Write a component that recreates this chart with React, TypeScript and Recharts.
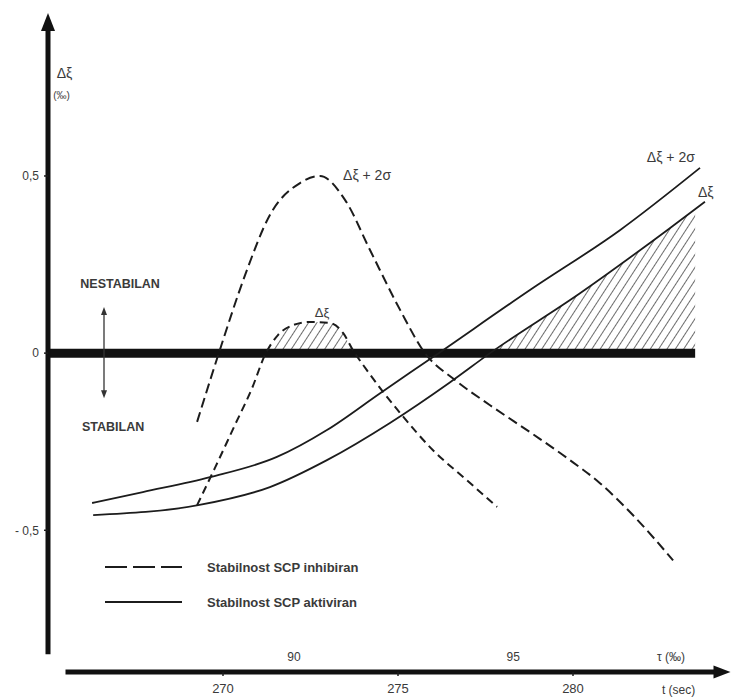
import React from 'react';
import {
  ComposedChart,
  Line,
  Area,
  XAxis,
  YAxis,
  ReferenceLine,
  ReferenceDot,
  Legend,
} from 'recharts';

// [t (sec), Δξ (‰)]
const inhibUpper: [number, number][] = [
  [269.26, -0.194], [269.91, 0.009], [270.63, 0.22], [271.34, 0.39], [272.2, 0.48],
  [272.77, 0.5], [273.49, 0.432], [274.2, 0.291], [275.06, 0.122], [275.77, 0.0],
  [276.63, -0.076], [277.63, -0.147], [278.86, -0.229], [279.83, -0.296],
  [280.77, -0.367], [281.71, -0.457], [282.86, -0.585],
];
const inhibLower: [number, number][] = [
  [269.26, -0.429], [269.77, -0.324], [270.34, -0.203], [270.83, -0.099], [271.2, -0.005],
  [271.57, 0.051], [272.0, 0.079], [272.49, 0.088], [273.06, 0.085], [273.43, 0.057],
  [273.71, 0.009], [274.11, -0.048], [275.06, -0.169], [276.0, -0.274],
  [276.97, -0.359], [277.83, -0.434],
];
const activUpper: [number, number][] = [
  [266.26, -0.423], [267.71, -0.392], [269.63, -0.35], [271.54, -0.293], [272.97, -0.217],
  [274.49, -0.113], [276.0, -0.011], [278.77, 0.178], [281.34, 0.347], [283.63, 0.523],
];
const activLower: [number, number][] = [
  [266.29, -0.457], [269.29, -0.429], [271.34, -0.378], [272.97, -0.302], [274.77, -0.197],
  [276.49, -0.082], [277.63, 0.0], [280.2, 0.169], [282.69, 0.347], [283.77, 0.427],
];
// hatched (unstable) parts of Δξ above zero
const inhibHatch: [number, number][] = [
  [271.2, 0.0], [271.57, 0.051], [272.0, 0.079], [272.49, 0.088], [273.06, 0.085],
  [273.43, 0.057], [273.71, 0.0],
];
const activHatch: [number, number][] = [
  [277.63, 0.0], [280.2, 0.169], [282.69, 0.347], [283.49, 0.406],
];

const xTicks = [270, 275, 280];
const yTicks = [-0.5, 0, 0.5];
const yTickLabels = ['- 0,5', '0', '0,5'];
const tauTicks = [272.03, 278.29];
const tauLabels = ['90', '95'];

const legendItems = [
  { label: 'Stabilnost SCP inhibiran', dash: '22 6' },
  { label: 'Stabilnost SCP aktiviran', dash: undefined },
];

const INK = '#1c1c1c';
const TEXT = '#3a3a3a';

const rows = (pts: [number, number][]) => pts.map(([t, v]) => ({ t, v }));

const arrowShape = (len: number, half: number, both: boolean) => (p: any) => {
  const { x1, y1, x2, y2, stroke, strokeWidth } = p;
  const a = Math.atan2(y2 - y1, x2 - x1);
  const head = (x: number, y: number, ang: number) => {
    const bx = x - len * Math.cos(ang);
    const by = y - len * Math.sin(ang);
    const px = half * Math.sin(ang);
    const py = half * Math.cos(ang);
    return `${x},${y} ${bx + px},${by - py} ${bx - px},${by + py}`;
  };
  const sx = both ? x1 + (len / 2) * Math.cos(a) : x1;
  const sy = both ? y1 + (len / 2) * Math.sin(a) : y1;
  return (
    <g>
      <line
        x1={sx}
        y1={sy}
        x2={x2 - (len / 2) * Math.cos(a)}
        y2={y2 - (len / 2) * Math.sin(a)}
        stroke={stroke}
        strokeWidth={strokeWidth}
      />
      <polygon points={head(x2, y2, a)} fill={stroke} />
      {both && <polygon points={head(x1, y1, a + Math.PI)} fill={stroke} />}
    </g>
  );
};

const textShape = (text: string, size: number, anchor: string, weight = 'normal') => (p: any) => (
  <text
    x={p.cx}
    y={p.cy}
    textAnchor={anchor}
    dominantBaseline="central"
    fontSize={size}
    fontWeight={weight}
    fill={TEXT}
  >
    {text}
  </text>
);

const notes = [
  { t: 273.43, v: 0.503, text: 'Δξ + 2σ', size: 14, anchor: 'start' },
  { t: 272.83, v: 0.116, text: 'Δξ', size: 13, anchor: 'middle' },
  { t: 282.11, v: 0.553, text: 'Δξ + 2σ', size: 14, anchor: 'start' },
  { t: 283.57, v: 0.455, text: 'Δξ', size: 14, anchor: 'start' },
  { t: 265.25, v: 0.79, text: 'Δξ', size: 14, anchor: 'start' },
  { t: 265.15, v: 0.728, text: '(‰)', size: 10, anchor: 'start' },
];
const sideNotes = [
  { t: 267.06, v: 0.195, text: 'NESTABILAN' },
  { t: 266.86, v: -0.209, text: 'STABILAN' },
];

const LegendBox = () => (
  <svg width={320} height={60}>
    {legendItems.map((it, i) => (
      <g key={it.label} transform={`translate(0, ${14 + i * 35})`}>
        <line x1={5} x2={82} y1={0} y2={0} stroke={INK} strokeWidth={2} strokeDasharray={it.dash} />
        <text
          x={107}
          y={0}
          dominantBaseline="central"
          fontSize={13}
          fontWeight="bold"
          fill={TEXT}
        >
          {it.label}
        </text>
      </g>
    ))}
  </svg>
);

export default function App() {
  return (
    <div
      style={{
        position: 'absolute',
        left: 0,
        top: 0,
        width: 733,
        height: 698,
        background: '#fff',
        fontFamily: '"Liberation Sans", Arial, sans-serif',
      }}
    >
      <ComposedChart width={733} height={698} margin={{ top: 13, right: 2.5, bottom: 0, left: 0 }}>
        <defs>
          <pattern
            id="hatch"
            patternUnits="userSpaceOnUse"
            width={7}
            height={7}
            patternTransform="rotate(33)"
          >
            <line x1={0} y1={0} x2={0} y2={7} stroke={INK} strokeWidth={1.3} />
          </pattern>
        </defs>
        <XAxis
          dataKey="t"
          type="number"
          domain={[265, 284.5]}
          allowDataOverflow
          ticks={xTicks}
          axisLine={false}
          tickSize={4}
          tickMargin={8}
          height={26}
          tickLine={{ stroke: INK, strokeWidth: 1.5 }}
          tick={{ fill: TEXT, fontSize: 13 }}
        />
        <YAxis
          type="number"
          domain={[-0.9, 0.96]}
          allowDataOverflow
          ticks={yTicks}
          width={48}
          axisLine={false}
          tickSize={4}
          tickMargin={5}
          tickLine={{ stroke: INK, strokeWidth: 1.5 }}
          tick={{ fill: TEXT, fontSize: 12 }}
          tickFormatter={(v: number) => yTickLabels[yTicks.indexOf(v)] ?? ''}
        />

        <Area
          data={rows(inhibHatch)}
          dataKey="v"
          type="monotone"
          stroke="none"
          fill="url(#hatch)"
          fillOpacity={1}
          baseValue={0}
          isAnimationActive={false}
        />
        <Area
          data={rows(activHatch)}
          dataKey="v"
          type="monotone"
          stroke="none"
          fill="url(#hatch)"
          fillOpacity={1}
          baseValue={0}
          isAnimationActive={false}
        />

        {/* axes and the stability border */}
        <ReferenceLine
          segment={[{ x: 265, y: 0 }, { x: 283.49, y: 0 }]}
          stroke="#111"
          strokeWidth={9}
        />
        <ReferenceLine
          segment={[{ x: 265, y: -0.85 }, { x: 265, y: 0.96 }]}
          stroke="#111"
          strokeWidth={5}
          shape={arrowShape(18, 7, false)}
        />
        <ReferenceLine
          segment={[{ x: 265.5, y: -0.9 }, { x: 284.5, y: -0.9 }]}
          stroke="#111"
          strokeWidth={5}
          shape={arrowShape(17, 6.5, false)}
        />
        <ReferenceLine
          segment={[{ x: 266.6, y: -0.127 }, { x: 266.6, y: 0.13 }]}
          stroke="#333"
          strokeWidth={1.3}
          shape={arrowShape(8, 3, true)}
        />

        <Line data={rows(inhibUpper)} dataKey="v" type="monotone" stroke={INK} strokeWidth={2}
          strokeDasharray="10 5" dot={false} isAnimationActive={false} />
        <Line data={rows(inhibLower)} dataKey="v" type="monotone" stroke={INK} strokeWidth={2}
          strokeDasharray="8 5" dot={false} isAnimationActive={false} />
        <Line data={rows(activUpper)} dataKey="v" type="monotone" stroke={INK} strokeWidth={1.8}
          dot={false} isAnimationActive={false} />
        <Line data={rows(activLower)} dataKey="v" type="monotone" stroke={INK} strokeWidth={1.8}
          dot={false} isAnimationActive={false} />

        {notes.map((n, i) => (
          <ReferenceDot key={`n${i}`} x={n.t} y={n.v} r={0} ifOverflow="visible"
            shape={textShape(n.text, n.size, n.anchor)} />
        ))}
        {sideNotes.map((n) => (
          <ReferenceDot key={n.text} x={n.t} y={n.v} r={0} ifOverflow="visible"
            shape={textShape(n.text, 12.5, 'middle', 'bold')} />
        ))}
        {tauTicks.map((t, i) => (
          <ReferenceDot key={`tau${i}`} x={t} y={-0.859} r={0} ifOverflow="visible"
            shape={textShape(tauLabels[i], 12, 'middle')} />
        ))}
        <ReferenceDot x={282.4} y={-0.859} r={0} ifOverflow="visible"
          shape={textShape('τ (‰)', 12, 'start')} />
        <ReferenceDot x={282.54} y={-0.952} r={0} ifOverflow="visible"
          shape={textShape('t (sec)', 12, 'start')} />

        <Legend
          layout="vertical"
          align="center"
          verticalAlign="middle"
          wrapperStyle={{ left: 100, top: 553, width: 320, height: 60 }}
          content={() => <LegendBox />}
        />
      </ComposedChart>
    </div>
  );
}
